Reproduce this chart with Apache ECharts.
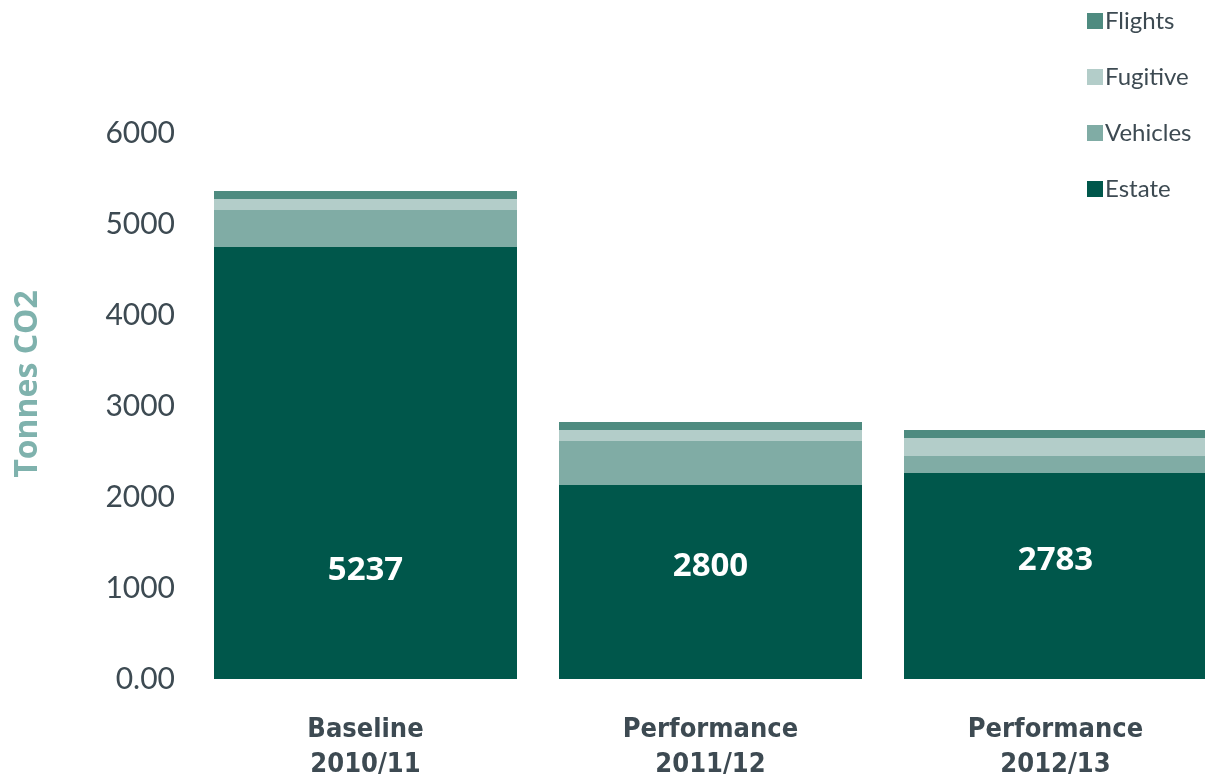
<!DOCTYPE html>
<html>
<head>
<meta charset="utf-8">
<script src="https://cdn.jsdelivr.net/npm/echarts@6/dist/echarts.min.js"></script>
<style>html,body{margin:0;padding:0;background:#fff;}#c{width:1205px;height:778px;}</style>
</head>
<body>
<div id="c"></div>
<script>
const categories = ['Baseline\n2010/11', 'Performance\n2011/12', 'Performance\n2012/13'];
const estate = [4747, 2132, 2264];
const vehicles = [407, 483, 187];
const fugitive = [121, 121, 198];
const flights = [88, 88, 88];
const barLabels = ['5237', '2800', '2783'];
const yTicks = [0, 1000, 2000, 3000, 4000, 5000, 6000];

const labelDist = [92, 96, 102];
const chart = echarts.init(document.getElementById('c'));
const lightFont = 'Lato';
const textColor = '#3d4a52';
function series(name, data, color, withLabel) {
  return {
    name, type: 'bar', stack: 'total', barWidth: 303,
    itemStyle: { color },
    data: data.map((v, i) => {
      const d = { value: v };
      if (withLabel) {
        d.label = {
          show: true, position: 'insideBottom', distance: labelDist[i],
          formatter: barLabels[i], color: '#fff', fontSize: 33, fontWeight: 'bold',
          fontFamily: 'Open Sans'
        };
      }
      return d;
    })
  };
}
chart.setOption({
  animation: false,
  grid: { left: 193, width: 1035, top: 133, bottom: 99, outerBoundsMode: 'none', containLabel: false },
  legend: {
    orient: 'vertical', left: 1082, top: 4, itemWidth: 16, itemHeight: 16, itemGap: 32,
    icon: 'rect',
    data: ['Flights', 'Fugitive', 'Vehicles', 'Estate'],
    textStyle: { color: textColor, fontSize: 24, fontFamily: lightFont, padding: [0, 0, 0, -3] }
  },
  xAxis: {
    type: 'category', data: categories,
    axisLine: { show: false }, axisTick: { show: false },
    axisLabel: { color: textColor, fontSize: 27, fontWeight: 'bold', lineHeight: 35,
      fontFamily: 'DejaVu Sans Condensed', margin: 33 }
  },
  yAxis: {
    type: 'value', min: 0, max: 6000, interval: 1000,
    splitLine: { show: false }, axisLine: { show: false }, axisTick: { show: false },
    axisLabel: { color: textColor, fontSize: 30, fontFamily: lightFont, margin: 18,
      formatter: v => v === 0 ? '0.00' : String(v) }
  },
  graphic: [{
    type: 'text', x: 28, y: 384, rotation: Math.PI / 2,
    style: { text: 'Tonnes CO2', fill: '#7fb2ad', fontSize: 32, fontWeight: 'bold',
      fontFamily: 'Open Sans', align: 'center', verticalAlign: 'middle' }
  }],
  series: [
    series('Estate', estate, '#00574b', true),
    series('Vehicles', vehicles, '#80aca5', false),
    series('Fugitive', fugitive, '#b3cdc9', false),
    series('Flights', flights, '#4e8b80', false)
  ]
});
</script>
</body>
</html>
